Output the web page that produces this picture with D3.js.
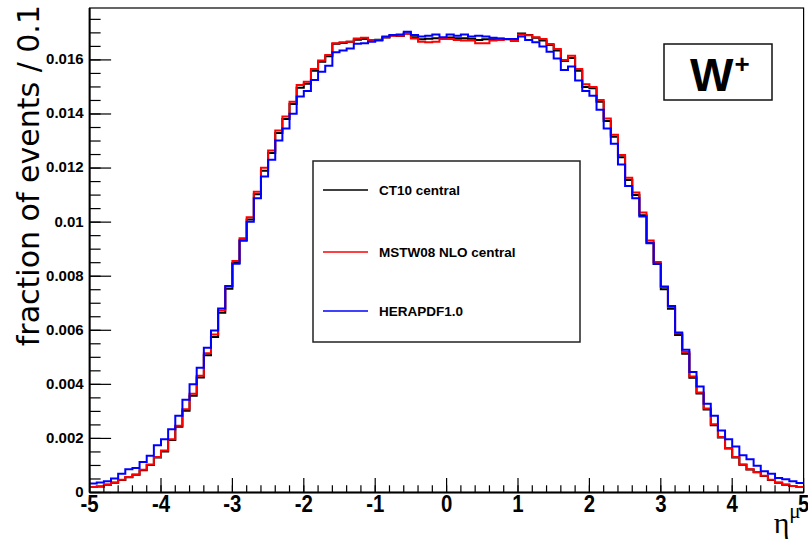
<!DOCTYPE html>
<html>
<head>
<meta charset="utf-8">
<script src="https://cdn.jsdelivr.net/npm/d3@7"></script>
<style>
  html, body { margin: 0; padding: 0; background: #fff; }
  svg { display: block; }
</style>
</head>
<body>
<svg id="chart" width="808" height="542"></svg>
<script>
// ---------- data ----------
const etaMin = -5, etaMax = 5, binWidth = 0.1;
const seriesNames = ["CT10 central", "MSTW08 NLO central", "HERAPDF1.0"];
const seriesColors = ["#000000", "#ff0000", "#0000ff"];

const ct10 = [
  0.00020, 0.00022, 0.00029, 0.00036, 0.00046, 0.00056, 0.00066, 0.00082, 0.00102, 0.00129,
  0.00152, 0.00194, 0.00243, 0.00302, 0.00358, 0.00425, 0.00508, 0.00575, 0.00665, 0.00754,
  0.00849, 0.00932, 0.01010, 0.01103, 0.01190, 0.01256, 0.01330, 0.01381, 0.01437, 0.01497,
  0.01512, 0.01560, 0.01593, 0.01614, 0.01660, 0.01663, 0.01667, 0.01675, 0.01677, 0.01671,
  0.01675, 0.01683, 0.01690, 0.01688, 0.01698, 0.01684, 0.01676, 0.01678, 0.01680, 0.01680,
  0.01683, 0.01680, 0.01680, 0.01678, 0.01674, 0.01676, 0.01676, 0.01678, 0.01676, 0.01674,
  0.01698, 0.01692, 0.01682, 0.01672, 0.01655, 0.01635, 0.01596, 0.01607, 0.01560, 0.01500,
  0.01495, 0.01445, 0.01374, 0.01316, 0.01240, 0.01156, 0.01100, 0.01025, 0.00924, 0.00845,
  0.00752, 0.00680, 0.00583, 0.00513, 0.00424, 0.00366, 0.00307, 0.00249, 0.00203, 0.00163,
  0.00129, 0.00103, 0.00085, 0.00075, 0.00061, 0.00046, 0.00036, 0.00029, 0.00024, 0.00020
];
const mstw08 = [
  0.00020, 0.00022, 0.00030, 0.00037, 0.00047, 0.00057, 0.00067, 0.00084, 0.00104, 0.00131,
  0.00155, 0.00197, 0.00247, 0.00308, 0.00365, 0.00432, 0.00515, 0.00584, 0.00673, 0.00762,
  0.00856, 0.00940, 0.01018, 0.01112, 0.01201, 0.01265, 0.01339, 0.01391, 0.01445, 0.01507,
  0.01519, 0.01566, 0.01598, 0.01618, 0.01662, 0.01665, 0.01667, 0.01679, 0.01682, 0.01674,
  0.01674, 0.01684, 0.01689, 0.01689, 0.01697, 0.01679, 0.01667, 0.01665, 0.01667, 0.01677,
  0.01677, 0.01674, 0.01672, 0.01672, 0.01662, 0.01662, 0.01672, 0.01674, 0.01677, 0.01670,
  0.01694, 0.01691, 0.01684, 0.01677, 0.01659, 0.01640, 0.01600, 0.01615, 0.01566, 0.01510,
  0.01500, 0.01452, 0.01383, 0.01323, 0.01248, 0.01164, 0.01110, 0.01036, 0.00932, 0.00853,
  0.00760, 0.00686, 0.00589, 0.00520, 0.00429, 0.00370, 0.00311, 0.00252, 0.00205, 0.00165,
  0.00131, 0.00104, 0.00086, 0.00076, 0.00062, 0.00047, 0.00037, 0.00030, 0.00024, 0.00020
];
const herapdf = [
  0.00033, 0.00037, 0.00042, 0.00052, 0.00069, 0.00086, 0.00091, 0.00113, 0.00136, 0.00175,
  0.00197, 0.00234, 0.00284, 0.00343, 0.00400, 0.00461, 0.00535, 0.00599, 0.00681, 0.00764,
  0.00846, 0.00932, 0.01001, 0.01088, 0.01169, 0.01231, 0.01302, 0.01346, 0.01401, 0.01465,
  0.01485, 0.01526, 0.01556, 0.01578, 0.01628, 0.01635, 0.01642, 0.01660, 0.01662, 0.01667,
  0.01672, 0.01687, 0.01692, 0.01694, 0.01704, 0.01692, 0.01687, 0.01689, 0.01694, 0.01684,
  0.01694, 0.01689, 0.01694, 0.01687, 0.01689, 0.01687, 0.01682, 0.01679, 0.01677, 0.01677,
  0.01687, 0.01674, 0.01665, 0.01650, 0.01630, 0.01605, 0.01563, 0.01576, 0.01524, 0.01485,
  0.01467, 0.01416, 0.01346, 0.01290, 0.01213, 0.01134, 0.01088, 0.01021, 0.00922, 0.00846,
  0.00762, 0.00690, 0.00592, 0.00528, 0.00446, 0.00392, 0.00328, 0.00284, 0.00229, 0.00197,
  0.00170, 0.00138, 0.00123, 0.00099, 0.00079, 0.00069, 0.00054, 0.00049, 0.00042, 0.00035
];
const seriesValues = [ct10, mstw08, herapdf];

const yTickValues = [0, 0.002, 0.004, 0.006, 0.008, 0.01, 0.012, 0.014, 0.016];
const yTickLabels = ["0", "0.002", "0.004", "0.006", "0.008", "0.01", "0.012", "0.014", "0.016"];
const xTickValues = [-5, -4, -3, -2, -1, 0, 1, 2, 3, 4, 5];
const xTickLabels = ["-5", "-4", "-3", "-2", "-1", "0", "1", "2", "3", "4", "5"];
const yMax = 0.01792;

// ---------- layout ----------
const svg = d3.select("#chart");
const L = 89.6, R = 803.6, T = 8, B = 492.5;
const x = d3.scaleLinear().domain([etaMin, etaMax]).range([L, R]);
const y = d3.scaleLinear().domain([0, yMax]).range([B, T]);

// frame
svg.append("rect").attr("x", L).attr("y", T).attr("width", R - L).attr("height", B - T)
  .attr("fill", "none").attr("stroke", "#000").attr("stroke-width", 1.2);

// histograms
const line = d3.line().x(d => x(d[0])).y(d => y(d[1])).curve(d3.curveStepAfter);
seriesValues.forEach((vals, k) => {
  const pts = vals.map((v, i) => [etaMin + i * binWidth, v]);
  pts.push([etaMax, vals[vals.length - 1]]);
  svg.append("path").attr("d", line(pts)).attr("fill", "none")
    .attr("stroke", seriesColors[k]).attr("stroke-width", 2);
});

// y axis (ticks inward, on the left)
const yMinor = d3.range(0, yMax + 1e-9, 0.0005);
const gy = svg.append("g");
gy.selectAll("line.minor").data(yMinor).join("line")
  .attr("x1", L).attr("x2", L + 11).attr("y1", d => y(d)).attr("y2", d => y(d))
  .attr("stroke", "#000").attr("stroke-width", 1.2);
gy.selectAll("line.major").data(yTickValues).join("line")
  .attr("x1", L).attr("x2", L + 21.5).attr("y1", d => y(d)).attr("y2", d => y(d))
  .attr("stroke", "#000").attr("stroke-width", 1.2);
gy.selectAll("text").data(yTickValues).join("text")
  .attr("x", L - 6).attr("y", d => y(d) - 1).attr("dy", "0.36em")
  .attr("text-anchor", "end").attr("font-family", "Liberation Sans, Arial, sans-serif")
  .attr("font-weight", "bold").attr("font-size", 15)
  .text((d, i) => yTickLabels[i]);
svg.append("line").attr("x1", L).attr("x2", L).attr("y1", T).attr("y2", B)
  .attr("stroke", "#000").attr("stroke-width", 2);

// x axis (ticks inward, from the bottom)
const xMinor = d3.range(etaMin, etaMax + 1e-9, 0.2);
const gx = svg.append("g");
gx.selectAll("line.minor").data(xMinor).join("line")
  .attr("x1", d => x(d)).attr("x2", d => x(d)).attr("y1", B).attr("y2", B - 7.2)
  .attr("stroke", "#000").attr("stroke-width", 1.2);
gx.selectAll("line.major").data(xTickValues).join("line")
  .attr("x1", d => x(d)).attr("x2", d => x(d)).attr("y1", B).attr("y2", B - 14.5)
  .attr("stroke", "#000").attr("stroke-width", 1.2);
gx.selectAll("text").data(xTickValues).join("text")
  .attr("transform", d => `translate(${x(d)},${B + 19}) scale(0.85,1)`)
  .attr("text-anchor", "middle").attr("font-family", "Liberation Sans, Arial, sans-serif")
  .attr("font-weight", "bold").attr("font-size", 24)
  .text((d, i) => xTickLabels[i]);
svg.append("line").attr("x1", L).attr("x2", R).attr("y1", B).attr("y2", B)
  .attr("stroke", "#000").attr("stroke-width", 2);

// axis titles
svg.append("text").attr("transform", `translate(39,5) rotate(-90)`)
  .attr("text-anchor", "end").attr("font-family", "DejaVu Sans, Verdana, sans-serif")
  .attr("font-size", 30).text("fraction of events / 0.1");

const xt = svg.append("text").attr("x", R - 3).attr("y", 533).attr("text-anchor", "end")
  .attr("font-family", "Liberation Serif, Times New Roman, serif").attr("font-size", 30);
xt.append("tspan").text("η");
xt.append("tspan").attr("font-size", 21).attr("dy", -15).text("μ");

// legend
const lg = svg.append("g");
lg.append("rect").attr("x", 313).attr("y", 161).attr("width", 267).attr("height", 181)
  .attr("fill", "#fff").attr("stroke", "#222").attr("stroke-width", 1.5);
const legY = [190, 252, 311];
seriesNames.forEach((name, k) => {
  lg.append("line").attr("x1", 323).attr("x2", 368).attr("y1", legY[k]).attr("y2", legY[k])
    .attr("stroke", seriesColors[k]).attr("stroke-width", 1.5);
  lg.append("text").attr("x", 379).attr("y", legY[k]).attr("dy", "0.36em")
    .attr("font-family", "Liberation Sans, Arial, sans-serif").attr("font-weight", "bold")
    .attr("font-size", 13.5).text(name);
});

// W+ label box
const wb = svg.append("g");
wb.append("rect").attr("x", 664).attr("y", 44).attr("width", 108).attr("height", 56)
  .attr("fill", "#fff").attr("stroke", "#111").attr("stroke-width", 1.5);
const wt = wb.append("text").attr("x", 690).attr("y", 91)
  .attr("font-family", "Liberation Sans, Arial, sans-serif").attr("font-weight", "bold")
  .attr("font-size", 46);
wt.append("tspan").text("W");
wt.append("tspan").attr("font-size", 26).attr("dy", -18).attr("dx", 1).text("+");
</script>
</body>
</html>
